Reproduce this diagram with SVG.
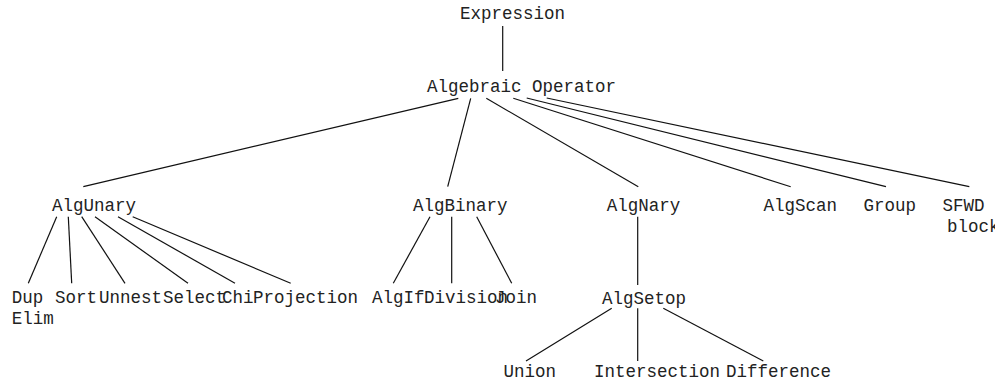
<svg xmlns="http://www.w3.org/2000/svg" width="995" height="383" viewBox="0 0 995 383">
<style>
text{font-family:"Liberation Mono","Courier New",monospace;font-size:17.5px;fill:#222}
.e line{stroke:#111;stroke-width:1.2}
</style>
<rect width="995" height="383" fill="#fff"/>
<g class="e" id="connectors">
<line x1="502.7" y1="26" x2="502.7" y2="71"/>
<line x1="458.3" y1="98.3" x2="83.3" y2="186.7"/>
<line x1="470.7" y1="98.3" x2="447.7" y2="186.7"/>
<line x1="486.3" y1="98.3" x2="638.3" y2="186.7"/>
<line x1="513.3" y1="98.3" x2="790.7" y2="186.7"/>
<line x1="526.7" y1="98" x2="886" y2="186.7"/>
<line x1="546.7" y1="98" x2="969.3" y2="186.7"/>
<line x1="56.7" y1="216.7" x2="28.3" y2="283.3"/>
<line x1="68.3" y1="216.7" x2="71.7" y2="283.3"/>
<line x1="81.7" y1="216.7" x2="125" y2="283.3"/>
<line x1="95" y1="216.7" x2="188" y2="283.3"/>
<line x1="118" y1="216.7" x2="235" y2="283.3"/>
<line x1="132.7" y1="216.7" x2="290.7" y2="283.3"/>
<line x1="430" y1="216.7" x2="393.3" y2="283.3"/>
<line x1="451.7" y1="216.7" x2="451.7" y2="283.3"/>
<line x1="476.7" y1="216.7" x2="511.7" y2="283.3"/>
<line x1="637.7" y1="216.7" x2="637.7" y2="285"/>
<line x1="611.7" y1="308.3" x2="526" y2="361"/>
<line x1="637.7" y1="308.3" x2="637.7" y2="361"/>
<line x1="663.3" y1="308.3" x2="763.3" y2="361"/>
</g>
<g id="n-expression"><text x="460" y="19">Expression</text></g>
<g id="n-algop"><text x="427" y="92">Algebraic Operator</text></g>
<g id="n-algunary"><text x="52" y="211">AlgUnary</text></g>
<g id="n-algbinary"><text x="413" y="211">AlgBinary</text></g>
<g id="n-algnary"><text x="606.7" y="211">AlgNary</text></g>
<g id="n-algscan"><text x="763.5" y="211">AlgScan</text></g>
<g id="n-group"><text x="863.5" y="211">Group</text></g>
<g id="n-sfwd"><text x="942.5" y="211">SFWD</text><text x="947" y="232">block</text></g>
<g id="n-dupelim"><text x="11.7" y="303">Dup</text><text x="11.7" y="324">Elim</text></g>
<g id="n-sort"><text x="55" y="303">Sort</text></g>
<g id="n-unnest"><text x="99" y="303">Unnest</text></g>
<g id="n-select"><text x="163" y="303">Select</text></g>
<g id="n-chi"><text x="222" y="303">Chi</text></g>
<g id="n-projection"><text x="253" y="303">Projection</text></g>
<g id="n-algif"><text x="372" y="303">AlgIf</text></g>
<g id="n-division"><text x="424" y="303">Division</text></g>
<g id="n-join"><text x="495" y="303">Join</text></g>
<g id="n-algsetop"><text x="602" y="304">AlgSetop</text></g>
<g id="n-union"><text x="503.5" y="377">Union</text></g>
<g id="n-intersection"><text x="594" y="377">Intersection</text></g>
<g id="n-difference"><text x="726" y="377">Difference</text></g>
</svg>
